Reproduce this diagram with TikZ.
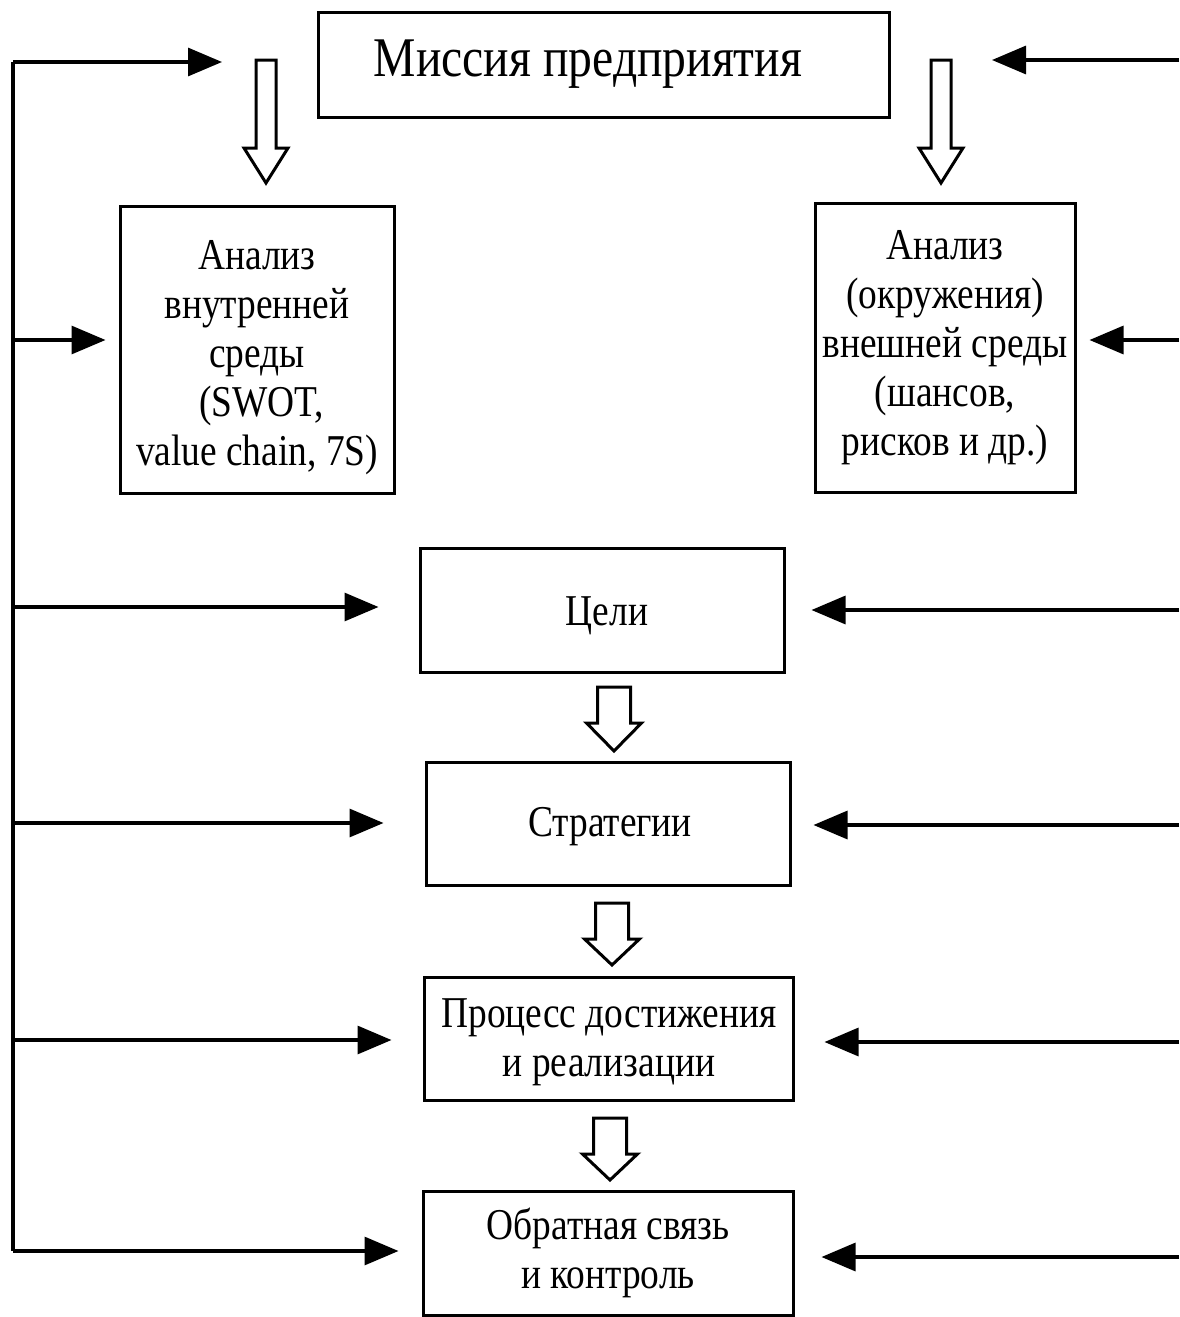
\documentclass[tikz,border=0pt]{standalone}
\usepackage{fontspec}
\setmainfont{Liberation Serif}[FakeStretch=0.85]
\usetikzlibrary{arrows.meta}
\begin{document}
\begin{tikzpicture}[x=0.5pt,y=-0.5pt,
  box/.style={draw,line width=1.5pt,inner sep=0pt,align=center,font=\fontsize{22pt}{24.5pt}\selectfont},
  txt/.style={inner sep=0pt,align=center,font=\fontsize{22pt}{24.5pt}\selectfont},
  fbline/.style={line width=1.6pt},
  fbarrow/.style={line width=1.6pt,-{Triangle[length=17pt,width=14pt]}},
  hollow/.style={draw,line width=1.5pt,fill=white,line join=miter}
]
\useasboundingbox (0,0) rectangle (1179,1317);
% boxes
\node[box,minimum width=285.5pt,minimum height=52.5pt] (mission) at (603.5,64.5) {};
\node[font=\fontsize{28pt}{30pt}\selectfont,inner sep=0pt] (missiontext) at (588,64) {Миссия предприятия};
\node[box,minimum width=137pt,minimum height=143.5pt] (int) at (257,349.5) {};
\node[txt] (inttext) at (257,358) {Анализ\\внутренней\\среды\\\ (SWOT,\\value chain, 7S)};
\node[box,minimum width=130pt,minimum height=144.5pt] (ext) at (945,347.5) {Анализ\\(окружения)\\внешней среды\\(шансов,\\рисков и др.)};
\node[box,minimum width=182pt,minimum height=62pt] (goals) at (602,610) {};
\node[txt] (goalstext) at (607,616) {Цели};
\node[box,minimum width=182pt,minimum height=61.5pt] (strat) at (608,823.5) {};
\node[txt] (strattext) at (610,827) {Стратегии};
\node[box,minimum width=184.5pt,minimum height=61.5pt] (proc) at (608.5,1038.5) {};
\node[txt] (proctext) at (609,1042) {Процесс достижения\\и реализации};
\node[box,minimum width=185pt,minimum height=62pt] (fb) at (608,1253) {Обратная связь\\и контроль};
% hollow arrows
\newcommand{\hollowarrow}[6]{% x, top, headstart, tip, shaft half, head half
  \draw[hollow] (#1-#5,#2) -- (#1+#5,#2) -- (#1+#5,#3) -- (#1+#6,#3) -- (#1,#4) -- (#1-#6,#3) -- (#1-#5,#3) -- cycle;}
\hollowarrow{266}{60}{148}{183}{10}{22}
\hollowarrow{941}{60}{148}{183}{10}{22}
\hollowarrow{614}{687}{723}{751}{16.5}{27.5}
\hollowarrow{612}{903}{939}{965}{16.5}{27.5}
\hollowarrow{610}{1118}{1154}{1180}{16.5}{27.5}
% left feedback line
\coordinate (L1) at (13,62);
\coordinate (L2) at (13,340);
\coordinate (L3) at (13,607);
\coordinate (L4) at (13,823);
\coordinate (L5) at (13,1040);
\coordinate (L6) at (13,1251);
\coordinate (T1) at (222,62);
\draw[fbline] (L1) -- (L6);
\draw[fbarrow] (L1) -- (T1);
\draw[fbarrow,shorten >=6.5pt] (L2) -- (L2 -| int.west);
\draw[fbarrow,shorten >=20pt] (L3) -- (L3 -| goals.west);
\draw[fbarrow,shorten >=20.5pt] (L4) -- (L4 -| strat.west);
\draw[fbarrow,shorten >=15.5pt] (L5) -- (L5 -| proc.west);
\draw[fbarrow,shorten >=11.5pt] (L6) -- (L6 -| fb.west);
% right arrows
\coordinate (R1) at (1179,60);
\coordinate (R2) at (1179,340);
\coordinate (R3) at (1179,610);
\coordinate (R4) at (1179,825);
\coordinate (R5) at (1179,1042);
\coordinate (R6) at (1179,1257);
\coordinate (T2) at (992,60);
\draw[fbarrow] (R1) -- (T2);
\draw[fbarrow,shorten >=6.5pt] (R2) -- (R2 -| ext.east);
\draw[fbarrow,shorten >=13pt] (R3) -- (R3 -| goals.east);
\draw[fbarrow,shorten >=11pt] (R4) -- (R4 -| strat.east);
\draw[fbarrow,shorten >=15pt] (R5) -- (R5 -| proc.east);
\draw[fbarrow,shorten >=13.5pt] (R6) -- (R6 -| fb.east);
\end{tikzpicture}
\end{document}
